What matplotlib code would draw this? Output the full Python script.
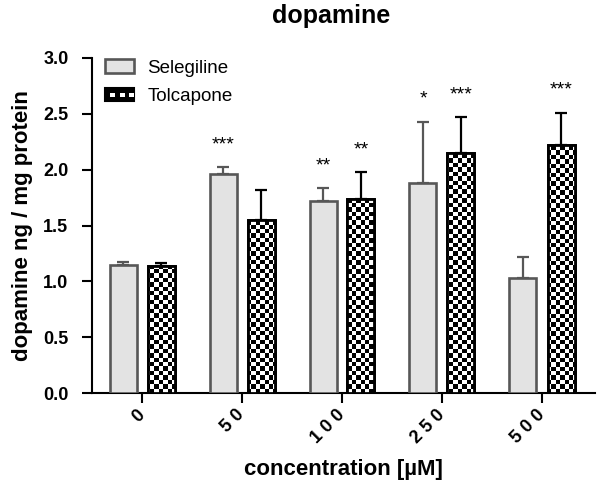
import matplotlib
matplotlib.use('Agg')
import matplotlib.pyplot as plt
import numpy as np
from matplotlib.legend_handler import HandlerBase
from matplotlib.patches import Rectangle, Patch

plt.rcParams['font.family'] = ['Liberation Sans', 'DejaVu Sans']

concentrations = ['0', '50', '100', '250', '500']
selegiline = [1.15, 1.96, 1.72, 1.88, 1.03]
selegiline_err = [0.02, 0.06, 0.115, 0.55, 0.19]
tolcapone = [1.14, 1.55, 1.74, 2.15, 2.22]
tolcapone_err = [0.02, 0.27, 0.24, 0.32, 0.29]
sel_sig = ['', '***', '**', '*', '']
tol_sig = ['', '', '**', '***', '***']

SEL_FACE = '#e3e3e3'
SEL_EDGE = '#575757'

fig = plt.figure(figsize=(6.02, 4.91), dpi=100)
ax = fig.add_axes([92/602, 1-393/491, 503/602, 335/491])

x = np.arange(len(concentrations))
w = 0.27
off = 0.19

ax.set_xlim(-0.5, 4.53)
ax.set_ylim(0, 3.0)

sel_bars = ax.bar(x - off, selegiline, w, facecolor=SEL_FACE, edgecolor=SEL_EDGE,
                  linewidth=1.9, zorder=3)
tol_bars = ax.bar(x + off, tolcapone, w, facecolor='white', edgecolor='black',
                  linewidth=2.0, zorder=3)

# checkerboard fill for tolcapone bars
cell = 4.4  # px
nx = int(round(503 / cell))
ny = int(round(335 / cell))
checker = (np.add.outer(np.arange(ny), np.arange(nx)) % 2).astype(float)
for b in tol_bars:
    im = ax.imshow(checker, cmap='gray', vmin=0, vmax=1, interpolation='nearest',
                   extent=(-0.5, 4.53, 0, 3.0), aspect='auto', zorder=3.5)
    im.set_clip_path(b)
    ax.add_patch(Rectangle(b.get_xy(), b.get_width(), b.get_height(),
                           fill=False, edgecolor='black', linewidth=2.0, zorder=4))

ax.set_xlim(-0.5, 4.53)
ax.set_ylim(0, 3.0)

# error bars (upper only)
ax.errorbar(x - off, selegiline, yerr=[np.zeros(5), selegiline_err], fmt='none',
            ecolor=SEL_EDGE, elinewidth=1.6, capsize=4.6, capthick=1.6, zorder=2)
ax.errorbar(x + off, tolcapone, yerr=[np.zeros(5), tolcapone_err], fmt='none',
            ecolor='black', elinewidth=1.6, capsize=4.6, capthick=1.6, zorder=2)

# significance stars
for xi, v, e, s in zip(x - off, selegiline, selegiline_err, sel_sig):
    if s:
        ax.text(xi, v + e + 0.16, s, ha='center', va='baseline', fontsize=14, zorder=5)
for xi, v, e, s in zip(x + off, tolcapone, tolcapone_err, tol_sig):
    if s:
        ax.text(xi, v + e + 0.16, s, ha='center', va='baseline', fontsize=14, zorder=5)

# axes styling
for sp in ['top', 'right']:
    ax.spines[sp].set_visible(False)
ax.spines['left'].set_linewidth(1.5)
ax.spines['bottom'].set_linewidth(1.5)
ax.set_yticks([0, 0.5, 1.0, 1.5, 2.0, 2.5, 3.0])
ax.set_yticklabels(['0.0', '0.5', '1.0', '1.5', '2.0', '2.5', '3.0'])
ax.tick_params(axis='both', direction='out', length=7, width=1.5, labelsize=13)
ax.set_xticks(x)
ax.set_xticklabels([' '.join(c) for c in concentrations], rotation=45,
                   ha='right', va='center', rotation_mode='anchor')
for lbl in ax.get_xticklabels() + ax.get_yticklabels():
    lbl.set_fontweight('bold')
ax.tick_params(axis='x', pad=7)
ax.tick_params(axis='y', pad=10)

ax.set_xlabel('concentration [µM]', fontsize=16, fontweight='bold', labelpad=9)
ax.set_ylabel('dopamine ng / mg protein', fontsize=16, fontweight='bold', labelpad=7)
fig.text(331/602, 1-16/491, 'dopamine', ha='center', va='center', fontsize=18,
         fontweight='bold')


class CheckerHandler(HandlerBase):
    def create_artists(self, legend, orig_handle, xdescent, ydescent, width, height,
                       fontsize, trans):
        arts = [Rectangle((-xdescent, -ydescent), width, height, facecolor='black',
                          edgecolor='black', linewidth=1.5, transform=trans)]
        n = 6
        cw = width / n
        ch = height / 3
        for i in range(n):
            if i % 2 == 1:
                arts.append(Rectangle((-xdescent + i * cw, -ydescent + ch), cw, ch,
                                      facecolor='white', edgecolor='none',
                                      transform=trans))
        return arts


sel_handle = Patch(facecolor=SEL_FACE, edgecolor=SEL_EDGE, linewidth=1.9)
tol_handle = Patch(facecolor='black')
leg = ax.legend([sel_handle, tol_handle], ['Selegiline', 'Tolcapone'],
                handler_map={tol_handle: CheckerHandler()},
                loc='upper left', bbox_to_anchor=(0.0, 1.035), frameon=False,
                fontsize=13.5, handlelength=1.55, handleheight=0.7,
                handletextpad=0.7, labelspacing=0.62, borderaxespad=0.3)

fig.savefig('out.png', dpi=100)
